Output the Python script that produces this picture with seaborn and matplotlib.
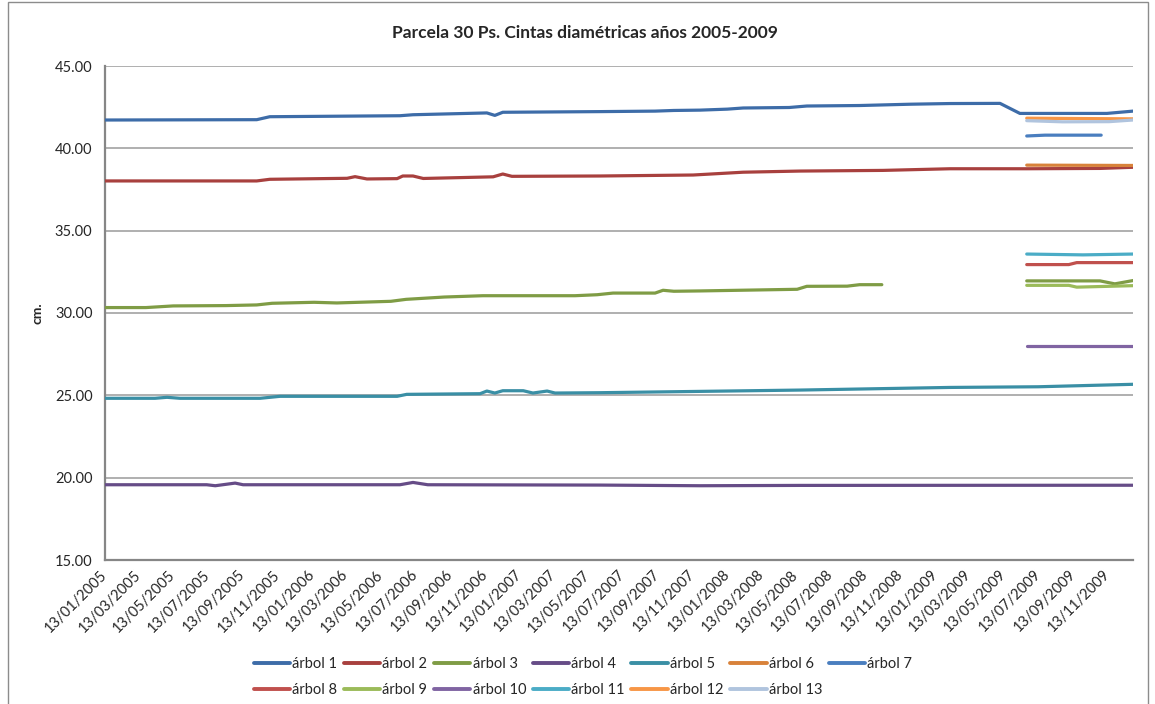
import matplotlib
matplotlib.use("Agg")
import matplotlib.pyplot as plt
from matplotlib.lines import Line2D
from matplotlib.patches import Rectangle
import seaborn as sns
import pandas as pd

# ---------------- data ----------------
title = "Parcela 30 Ps. Cintas diamétricas años 2005-2009"
y_label = "cm."
series_names = [f"árbol {i}" for i in range(1, 14)]
colors = ["#3D6CA8", "#A8403E", "#7F9C45", "#664C87", "#3A8FA5", "#D8823A",
          "#4A7EBF", "#C0504D", "#9BBB59", "#8064A2", "#4BACC6", "#F79646", "#B0C4DE"]
tick_labels = [f"13/{m:02d}/{y}" for y in range(2005, 2010) for m in (1, 3, 5, 7, 9, 11)]
y_ticks = [15, 20, 25, 30, 35, 40, 45]

a1_dates = ["2005-01-13", "2005-10-07", "2005-10-30", "2006-06-16", "2006-07-09", "2006-11-16",
            "2006-11-30", "2006-12-14", "2007-06-03", "2007-09-08", "2007-10-11", "2007-11-26",
            "2008-01-13", "2008-02-10", "2008-05-01", "2008-06-01", "2008-09-02", "2008-12-01",
            "2009-02-08", "2009-05-07", "2009-06-11", "2009-11-11", "2009-12-27"]
a1_vals = [41.72, 41.74, 41.92, 41.98, 42.04, 42.15, 42.00, 42.19, 42.23, 42.26, 42.30, 42.32,
           42.38, 42.45, 42.48, 42.57, 42.60, 42.68, 42.72, 42.73, 42.12, 42.12, 42.26]

a2_dates = ["2005-01-13", "2005-10-07", "2005-10-30", "2006-03-15", "2006-03-29", "2006-04-19",
            "2006-06-11", "2006-06-21", "2006-07-09", "2006-07-27", "2006-11-27", "2006-12-14",
            "2006-12-30", "2007-06-03", "2007-11-14", "2008-02-10", "2008-05-20", "2008-10-13",
            "2009-02-08", "2009-06-23", "2009-10-30", "2009-12-27"]
a2_vals = [38.02, 38.02, 38.12, 38.18, 38.28, 38.14, 38.16, 38.32, 38.32, 38.17, 38.27, 38.44,
           38.30, 38.32, 38.38, 38.55, 38.62, 38.66, 38.76, 38.76, 38.78, 38.85]

a3_dates_a = ["2005-01-13", "2005-03-26", "2005-05-13", "2005-08-14", "2005-10-07", "2005-11-03",
              "2006-01-16", "2006-02-25", "2006-05-31", "2006-06-27", "2006-09-02", "2006-11-09",
              "2007-04-20", "2007-05-29", "2007-06-26", "2007-09-08", "2007-09-22", "2007-10-11",
              "2007-11-26", "2008-05-15", "2008-06-01", "2008-08-11", "2008-09-02", "2008-10-11"]
a3_vals_a = [30.33, 30.33, 30.43, 30.45, 30.49, 30.59, 30.65, 30.61, 30.71, 30.83, 30.97, 31.05,
             31.05, 31.11, 31.21, 31.21, 31.38, 31.32, 31.34, 31.44, 31.62, 31.63, 31.72, 31.72]
a3_dates_b = ["2009-06-23", "2009-10-30", "2009-11-25", "2009-12-27"]
a3_vals_b = [31.95, 31.95, 31.77, 31.97]

a4_dates = ["2005-01-13", "2005-07-11", "2005-07-26", "2005-08-30", "2005-09-13", "2006-06-16",
            "2006-07-09", "2006-08-04", "2007-06-03", "2007-11-26", "2008-05-20", "2009-12-27"]
a4_vals = [19.57, 19.57, 19.51, 19.67, 19.57, 19.57, 19.71, 19.57, 19.55, 19.51, 19.53, 19.54]

a5_dates = ["2005-01-13", "2005-04-11", "2005-05-02", "2005-05-25", "2005-10-13", "2005-11-17",
            "2006-06-11", "2006-06-28", "2006-11-04", "2006-11-16", "2006-11-30", "2006-12-14",
            "2007-01-19", "2007-02-05", "2007-03-02", "2007-03-16", "2007-06-03", "2008-05-20",
            "2009-02-08", "2009-07-13", "2009-12-27"]
a5_vals = [24.82, 24.82, 24.88, 24.82, 24.82, 24.94, 24.94, 25.06, 25.10, 25.26, 25.14, 25.28,
           25.28, 25.14, 25.26, 25.14, 25.16, 25.32, 25.48, 25.52, 25.67]

a6_dates = ["2009-06-23", "2009-12-27"]
a6_vals = [38.98, 38.96]
a7_dates = ["2009-06-23", "2009-07-25", "2009-11-01"]
a7_vals = [40.75, 40.80, 40.80]
a8_dates = ["2009-06-23", "2009-09-05", "2009-09-19", "2009-12-27"]
a8_vals = [32.94, 32.94, 33.06, 33.06]
a9_dates = ["2009-06-23", "2009-09-05", "2009-09-19", "2009-12-27"]
a9_vals = [31.68, 31.68, 31.57, 31.66]
a10_dates = ["2009-06-23", "2009-12-27"]
a10_vals = [27.97, 27.97]
a11_dates = ["2009-06-23", "2009-09-30", "2009-12-27"]
a11_vals = [33.58, 33.53, 33.58]
a12_dates = ["2009-06-23", "2009-12-27"]
a12_vals = [41.83, 41.79]
a13_dates = ["2009-06-23", "2009-08-25", "2009-11-15", "2009-12-27"]
a13_vals = [41.68, 41.61, 41.62, 41.72]

x_start, x_end = "2005-01-13", "2009-12-27"

segments = [
    ("árbol 1", a1_dates, a1_vals), ("árbol 2", a2_dates, a2_vals),
    ("árbol 3", a3_dates_a, a3_vals_a), ("árbol 3", a3_dates_b, a3_vals_b),
    ("árbol 4", a4_dates, a4_vals), ("árbol 5", a5_dates, a5_vals),
    ("árbol 6", a6_dates, a6_vals), ("árbol 7", a7_dates, a7_vals),
    ("árbol 8", a8_dates, a8_vals), ("árbol 9", a9_dates, a9_vals),
    ("árbol 10", a10_dates, a10_vals), ("árbol 11", a11_dates, a11_vals),
    ("árbol 12", a12_dates, a12_vals), ("árbol 13", a13_dates, a13_vals),
]

rows = []
for seg_id, (name, dts, vals) in enumerate(segments):
    for d, v in zip(dts, vals):
        rows.append({"fecha": pd.Timestamp(d), "cm": v, "serie": name, "seg": seg_id})
df = pd.DataFrame(rows)

# ---------------- plot ----------------
sns.set_style("white")
plt.rcParams["font.family"] = ["Lato", "DejaVu Sans"]

fig = plt.figure(figsize=(11.55, 7.04), dpi=100)
ax = fig.add_axes([105 / 1155, 1 - 560 / 704, (1133 - 105) / 1155, (560 - 66) / 704])

for yv in y_ticks:
    ax.axhline(yv, color="#A9A9A9", lw=1.3, zorder=0)

sns.lineplot(data=df, x="fecha", y="cm", hue="serie", units="seg", estimator=None,
             hue_order=series_names, palette=colors, lw=2.3, legend=False, ax=ax,
             zorder=3)

ax.set_xlim(pd.Timestamp(x_start), pd.Timestamp(x_end))
ax.set_ylim(15, 45)
ax.set_yticks(y_ticks)
ax.set_yticklabels([f"{v:.2f}" for v in y_ticks], fontsize=10.5)
ax.set_xticks(pd.to_datetime(tick_labels, format="%d/%m/%Y"))
ax.set_xticklabels(tick_labels, rotation=45, ha="right", va="center",
                   rotation_mode="anchor", fontsize=10.5)
ax.tick_params(axis="x", length=0, pad=9)
ax.tick_params(axis="y", length=5, color="#868686", width=1.2, pad=4, direction="out")
ax.set_xlabel("")
ax.set_ylabel(y_label, fontsize=10, fontweight="bold", labelpad=8)
ax.grid(False)
for s in ("top", "right"):
    ax.spines[s].set_visible(False)
for s in ("left", "bottom"):
    ax.spines[s].set_color("#868686")
    ax.spines[s].set_linewidth(1.6)

fig.text(585 / 1155, 1 - 33 / 704, title, ha="center", va="center",
         fontsize=12.5, fontweight="bold")

handles = [Line2D([0], [0], color=c, lw=2.8) for c in colors]
order = [0, 7, 1, 8, 2, 9, 3, 10, 4, 11, 5, 12, 6]
leg = fig.legend([handles[i] for i in order], [series_names[i] for i in order],
                 loc="center", bbox_to_anchor=(583 / 1155, 1 - 677 / 704), ncol=7,
                 frameon=False, fontsize=10.5, handlelength=2.5, handletextpad=0.15,
                 columnspacing=0.45, labelspacing=0.85)

fig.patches.append(Rectangle((8 / 1155, -0.01), (1148 - 8) / 1155, 1.0 + 0.01 - 2 / 704,
                             transform=fig.transFigure, fill=False,
                             edgecolor="#8C8C8C", lw=1.0))

fig.savefig("out.png", dpi=100)
